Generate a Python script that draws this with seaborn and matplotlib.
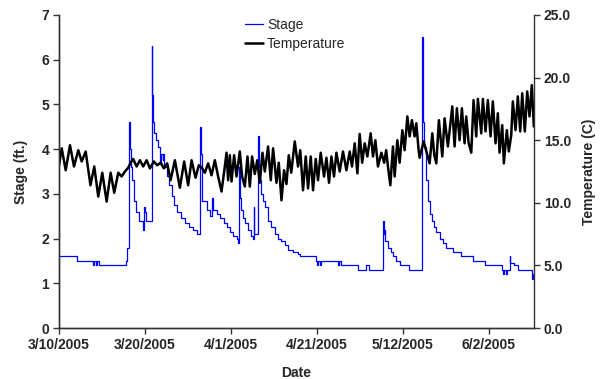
import matplotlib
matplotlib.use("Agg")
import matplotlib.pyplot as plt
import seaborn as sns

# Logger record on a category axis: position = sample number, one date label every 86 samples.
date_labels = ["3/10/2005", "3/20/2005", "4/1/2005", "4/21/2005", "5/12/2005", "6/2/2005"]
label_every = 86
n_samples = 475.5

# Stage: sample where the logged value changes, and the new value (ft)
stage_idx = [0, 17.7, 34, 35.5, 37, 38.5, 40, 66.7, 68.5, 69.7, 70.5, 71.3, 72.2, 73.3, 75, 77, 80,
             83.7, 84.7, 85.5, 86.5, 87.5, 92.7, 93.5, 94.5, 95.5, 97, 99, 101, 102.3, 103.7, 104.3,
             105.5, 108, 110.5, 112.7, 115.5, 118.5, 122, 126, 130, 134.3, 138.5, 141.5, 142,
             142.7, 143.5, 147.7, 151, 152.7, 154.5, 158, 161.5, 165, 168, 171, 174.3, 177.7,
             179.3, 180.3, 181, 181.7, 184, 186.5, 189.3, 192.7, 194.3, 195, 195.6, 199.7, 200.3,
             201.3, 202.5, 204.3, 206, 209.3, 212.7, 216, 219.3, 222.7, 226, 229.3, 234.3, 239.3,
             241, 257, 258.5, 259.5, 261, 262, 279, 280.5, 282, 299, 307.5, 310, 324.3, 325, 326,
             326.8, 329.3, 332, 334.3, 337.7, 341, 350, 363.3, 364, 364.7, 365.5, 367, 369, 371,
             373, 375.5, 377.7, 381, 384.3, 387.7, 394.3, 402.7, 414.3, 426, 443, 444, 445.5, 447,
             448, 451, 451.7, 455, 459, 473, 474, 475.3]
stage_ft = [1.6, 1.5, 1.4, 1.5, 1.4, 1.5, 1.4, 1.5, 1.8, 2.35, 4.6, 4.0, 3.6, 3.3, 2.85, 2.6, 2.4,
            2.2, 2.45, 2.7, 2.6, 2.4, 6.3, 5.2, 4.6, 4.35, 4.2, 4.05, 3.7, 3.9, 3.75, 3.9,
            3.6, 3.4, 3.2, 2.95, 2.75, 2.6, 2.45, 2.35, 2.25, 2.2, 2.1, 4.5, 3.9,
            3.2, 2.85, 2.65, 2.5, 2.9, 2.65, 2.55, 2.45, 2.35, 2.25, 2.15, 2.05, 2.0,
            1.9, 3.6, 2.9, 2.65, 2.45, 2.35, 2.2, 2.05, 2.0, 2.7, 2.1, 4.3, 3.6,
            3.3, 3.0, 2.85, 2.7, 2.4, 2.25, 2.1, 2.0, 1.95, 1.85, 1.75, 1.7, 1.65,
            1.6, 1.5, 1.4, 1.5, 1.4, 1.5, 1.4, 1.5, 1.4, 1.3, 1.4, 1.3, 2.4, 2.1, 2.2,
            1.95, 1.8, 1.7, 1.6, 1.5, 1.4, 1.3, 6.5, 5.6, 4.6, 4.05, 3.3, 2.85, 2.55,
            2.4, 2.25, 2.15, 2.0, 1.9, 1.8, 1.7, 1.6, 1.5, 1.4, 1.3, 1.2, 1.3, 1.2,
            1.3, 1.6, 1.45, 1.4, 1.3, 1.1, 1.2, 1.2]

# Temperature: sample of each daily high / low and its value (C)
temp_idx = [0, 2.7, 6.7, 11, 15, 19.3, 22.7, 26.7, 31.5, 35.3, 39.3, 43.3, 47.7, 51.7, 55.3, 59.3,
            62.7, 66, 69.3, 71.7, 74.3, 77.7, 81, 84.3, 87.7, 91, 95, 98.3, 101.7, 105, 108.3,
            111.7, 116, 121, 125.3, 129.3, 132.7, 136.7, 140, 143, 146, 149.3, 152.7, 156, 159.3,
            162.7, 166, 167.7, 169.3, 171, 172.7, 175.3, 177.7, 181, 183.3, 186, 188.7, 191,
            193.3, 196, 198.5, 201, 203.7, 206, 209.3, 212, 214.3, 217.7, 220, 222.7, 225.3,
            227.7, 230, 232.5, 236, 239.3, 241.5, 244.3, 247, 249.3, 252, 254.3, 257, 259.3, 262,
            265.3, 267.7, 270.3, 272.7, 275.3, 277.7, 281, 284.3, 287.7, 291, 293.3, 296, 298.7,
            301, 303.5, 306, 308.7, 312, 314.3, 316.7, 319.3, 322.7, 325.5, 327.5, 329.3, 331.7,
            334.3, 336, 338.7, 341, 343.7, 346, 348.7, 351, 353.3, 356, 357.7, 360, 361, 365,
            367.7, 371, 373.7, 375.7, 377.7, 380.3, 383.7, 386, 389.3, 393.7, 396, 398.3, 401,
            403.3, 406, 407.7, 410, 412.7, 415, 417.7, 419.3, 422.7, 424.3, 427, 429.3, 432,
            434.3, 437, 439.3, 441, 443.7, 445.3, 448.3, 450.3, 452.7, 454.3, 457, 459.3, 461.7,
            463.7, 466.3, 468.7, 471, 473.3, 475.3]
temp_c = [13.0, 14.35, 12.6, 14.6, 12.9, 14.2, 13.3, 14.1, 11.4, 12.9, 10.5, 12.4, 10.1, 12.4, 10.8, 12.4,
          12.1, 12.5, 12.8, 13.2, 13.5, 12.9, 13.4, 12.9, 13.4, 12.75, 13.3, 13.0, 13.2, 12.75, 13.15,
          11.8, 13.4, 11.2, 13.3, 11.4, 13.4, 12.0, 13.0, 12.8, 12.4, 13.15, 12.2, 13.4, 12.1,
          10.9, 12.9, 14.0, 11.8, 13.8, 11.7, 13.8, 12.1, 14.1, 12.1, 11.3, 13.7, 11.3,
          13.7, 12.3, 13.4, 11.6, 14.0, 12.5, 14.5, 11.8, 14.35, 11.6, 13.2, 10.2, 12.6,
          11.5, 13.8, 12.4, 14.9, 12.9, 14.2, 11.0, 13.7, 11.15, 13.7, 11.0, 13.5, 11.8, 14.0,
          12.1, 13.6, 11.6, 13.7, 12.1, 14.0, 12.5, 14.1, 12.6, 14.1, 12.9, 14.75, 12.35,
          15.5, 13.2, 14.75, 13.7, 15.55, 13.7, 15.0, 12.9, 14.0, 13.2, 14.2, 12.9, 11.4,
          14.5, 12.1, 15.0, 13.2, 15.8, 14.2, 16.9, 15.3, 16.6, 15.3, 16.35, 14.2, 13.6, 14.9,
          14.1, 13.15, 15.55, 13.8, 13.15, 16.6, 13.7, 16.75, 14.5, 17.7, 14.5, 17.55, 15.0,
          17.55, 14.75, 16.9, 14.8, 14.0, 18.2, 15.3, 18.3, 15.55, 18.3, 15.7, 18.2, 15.3,
          18.1, 14.75, 17.15, 14.0, 16.2, 13.15, 15.8, 14.1, 15.4, 18.1, 15.8, 18.5, 15.7,
          18.75, 15.7, 18.9, 16.9, 19.4, 16.1]

sns.set_style("ticks")
plt.rcParams["font.family"] = ["Liberation Sans", "DejaVu Sans"]
plt.rcParams["font.size"] = 10

fig = plt.figure(figsize=(6.02, 3.79), dpi=100)
ax = fig.add_axes([59 / 602, 51 / 379, 475 / 602, 313 / 379])
ax2 = ax.twinx()

sns.lineplot(x=stage_idx, y=stage_ft, ax=ax, color="#0000FF", linewidth=0.9,
             estimator=None, sort=False, drawstyle="steps-post", legend=False)
sns.lineplot(x=temp_idx, y=temp_c, ax=ax2, color="black", linewidth=1.8,
             estimator=None, sort=False, legend=False)

ax.set_xlim(0, n_samples)
ax.set_ylim(0, 7)
ax2.set_ylim(0, 25)
ax.set_xticks([i * label_every for i in range(len(date_labels))])
ax.set_xticklabels(date_labels, fontweight="bold")
ax.set_yticks(range(0, 8))
ax.set_yticklabels([str(v) for v in range(0, 8)], fontweight="bold")
ax2.set_yticks([0, 5, 10, 15, 20, 25])
ax2.set_yticklabels([f"{v:.1f}" for v in [0, 5, 10, 15, 20, 25]], fontweight="bold")

ax.set_xlabel("Date", fontweight="bold", labelpad=10)
ax.set_ylabel("Stage (ft.)", fontweight="bold", labelpad=10)
ax2.set_ylabel("Temperature (C)", fontweight="bold", labelpad=8)

for a in (ax, ax2):
    a.spines["top"].set_visible(False)
    for s in ("left", "bottom", "right"):
        a.spines[s].set_color("#333333")
        a.spines[s].set_linewidth(1.0)
    a.tick_params(direction="out", length=4, width=1.0, color="#333333", labelsize=10, pad=3)
ax.spines["right"].set_visible(False)

handles = [ax.get_lines()[0], ax2.get_lines()[0]]
fig.legend(handles, ["Stage", "Temperature"], loc="upper left",
           bbox_to_anchor=(238 / 602, 1 - 11 / 379), frameon=False, borderpad=0,
           handlelength=1.3, handletextpad=0.3, labelspacing=0.38, fontsize=10)

fig.savefig("out.png", dpi=100)
